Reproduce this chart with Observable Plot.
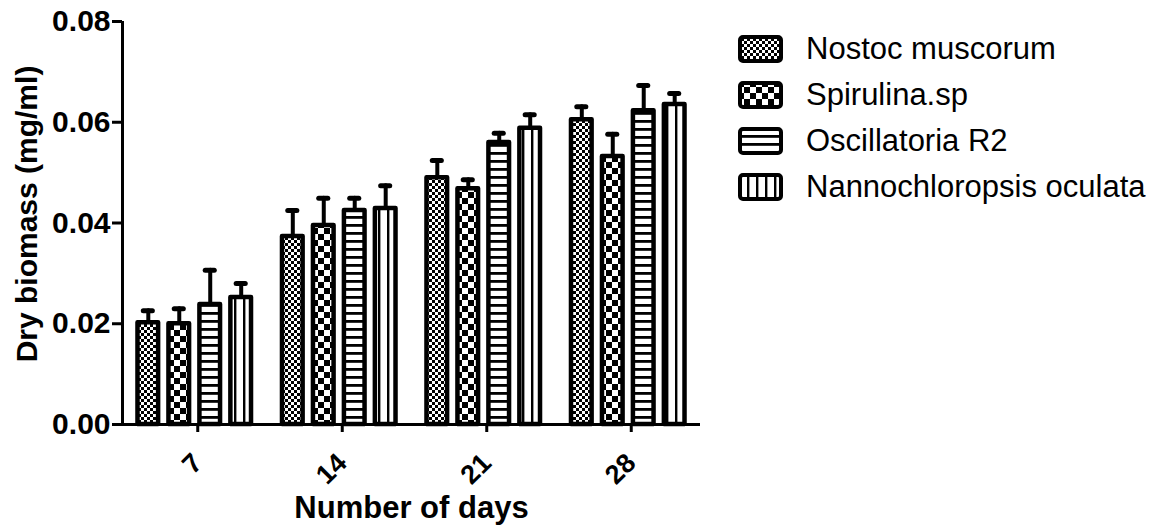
<!DOCTYPE html>
<html><head><meta charset="utf-8">
<script src="https://cdn.jsdelivr.net/npm/d3@7"></script>
<script src="https://cdn.jsdelivr.net/npm/@observablehq/plot@0.6"></script>
<style>
html,body{margin:0;padding:0;background:#fff;}
#wrap{position:relative;width:1158px;height:531px;font-family:"Liberation Sans",Arial,sans-serif;overflow:hidden;}
#chart{position:absolute;left:0;top:0;}
#legend{position:absolute;left:738px;top:26px;}
.item{display:flex;align-items:center;height:46px;}
.item svg{margin-right:23px;flex:none;}
.item span{font-size:31px;color:#000;white-space:nowrap;}
</style></head><body>
<svg width="0" height="0" style="position:absolute">
<defs>
<pattern id="p0" patternUnits="userSpaceOnUse" width="6" height="6">
<rect width="6" height="6" fill="#fff"/><rect width="3" height="3" fill="#000"/><rect x="3" y="3" width="3" height="3" fill="#000"/>
</pattern>
<pattern id="p1" patternUnits="userSpaceOnUse" width="12" height="12">
<rect width="12" height="12" fill="#fff"/><rect width="6" height="6" fill="#000"/><rect x="6" y="6" width="6" height="6" fill="#000"/>
</pattern>
<pattern id="p2" patternUnits="userSpaceOnUse" width="8" height="8">
<rect width="8" height="8" fill="#fff"/><rect width="8" height="2.8" fill="#000"/>
</pattern>
<pattern id="p3" patternUnits="userSpaceOnUse" width="9" height="9">
<rect width="9" height="9" fill="#fff"/><rect width="2.4" height="9" fill="#000"/>
</pattern>
</defs></svg>
<div id="wrap"><div id="chart"></div><div id="legend"></div></div>
<script>
// ---- data ----
const days = [7, 14, 21, 28];
const series = ["Nostoc muscorum", "Spirulina.sp", "Oscillatoria R2", "Nannochloropsis oculata"];
const nostocMean = [0.0202, 0.0373, 0.0490, 0.0605];
const nostocErr  = [0.0024, 0.0052, 0.0034, 0.0026];
const spirulinaMean = [0.0200, 0.0395, 0.0468, 0.0532];
const spirulinaErr  = [0.0030, 0.0054, 0.0018, 0.0044];
const oscillatoriaMean = [0.0238, 0.0425, 0.0560, 0.0623];
const oscillatoriaErr  = [0.0068, 0.0024, 0.0018, 0.0050];
const nannoMean = [0.0252, 0.0429, 0.0588, 0.0635];
const nannoErr  = [0.0028, 0.0045, 0.0027, 0.0022];
const yTicks = [0, 0.02, 0.04, 0.06, 0.08];
const yTitle = "Dry biomass (mg/ml)";
const xTitle = "Number of days";

const means = [nostocMean, spirulinaMean, oscillatoriaMean, nannoMean];
const errs = [nostocErr, spirulinaErr, oscillatoriaErr, nannoErr];
const fills = ["url(#p0)", "url(#p1)", "url(#p2)", "url(#p3)"];

const rows = days.flatMap((d, j) => series.map((s, i) => ({day: d, series: s, i, value: means[i][j], err: errs[i][j]})));

// layout (dodge within each day group, in x-scale units)
const xDomain = [3.5, 31.5];
const dodge = 1.5, half = 0.5, capHalf = 0.22;
const cx = r => r.day + (r.i - 1.5) * dodge;

const barMarks = series.map((s, i) =>
  Plot.rectY(rows.filter(r => r.i === i), {
    x1: r => cx(r) - half, x2: r => cx(r) + half, y: "value",
    fill: fills[i], stroke: "black", strokeWidth: 4.5, strokeLinejoin: "round"
  })
);

const plot = Plot.plot({
  width: 720, height: 531,
  marginLeft: 122, marginRight: 20, marginTop: 21, marginBottom: 107,
  style: {fontFamily: "'Liberation Sans', Arial, sans-serif", color: "#000", background: "#fff", overflow: "visible"},
  x: {domain: xDomain},
  y: {domain: [0, 0.08]},
  marks: [
    Plot.ruleX(rows, {x: cx, y1: "value", y2: r => r.value + r.err, stroke: "black", strokeWidth: 4, strokeLinecap: "round"}),
    Plot.ruleY(rows, {y: r => r.value + r.err, x1: r => cx(r) - capHalf, x2: r => cx(r) + capHalf, stroke: "black", strokeWidth: 5, strokeLinecap: "round"}),
    ...barMarks,
    Plot.ruleY([0], {stroke: "black", strokeWidth: 3}),
    Plot.ruleX([xDomain[0]], {stroke: "black", strokeWidth: 3}),
    Plot.axisY({ticks: yTicks, tickFormat: d3.format(".2f"), tickSize: 10, strokeWidth: 3, tickPadding: 2,
      fontSize: 30, fontWeight: "bold", label: null}),
    Plot.axisX({ticks: days, tickFormat: d => String(d), tickSize: 8, strokeWidth: 3, tickRotate: -45, tickPadding: 26, dx: 3,
      fontSize: 27, fontWeight: "bold", label: null}),
    Plot.text([yTitle], {frameAnchor: "left", rotate: -90, dx: -95, dy: -9, textAnchor: "middle", lineAnchor: "middle", fontSize: 30, fontWeight: "bold", fill: "black"}),
    Plot.text([xTitle], {frameAnchor: "bottom", dy: 84, textAnchor: "middle", lineAnchor: "middle", fontSize: 31, fontWeight: "bold", fill: "black"})
  ]
});
document.getElementById("chart").appendChild(plot);

// legend
const legend = d3.select("#legend");
series.forEach((s, i) => {
  const item = legend.append("div").attr("class", "item");
  const sw = item.append("svg").attr("width", 45).attr("height", 28);
  sw.append("rect").attr("x", 2).attr("y", 2).attr("width", 41).attr("height", 24).attr("rx", 3)
    .attr("fill", fills[i]).attr("stroke", "#000").attr("stroke-width", 4);
  item.append("span").text(s);
});
</script>
</body></html>
